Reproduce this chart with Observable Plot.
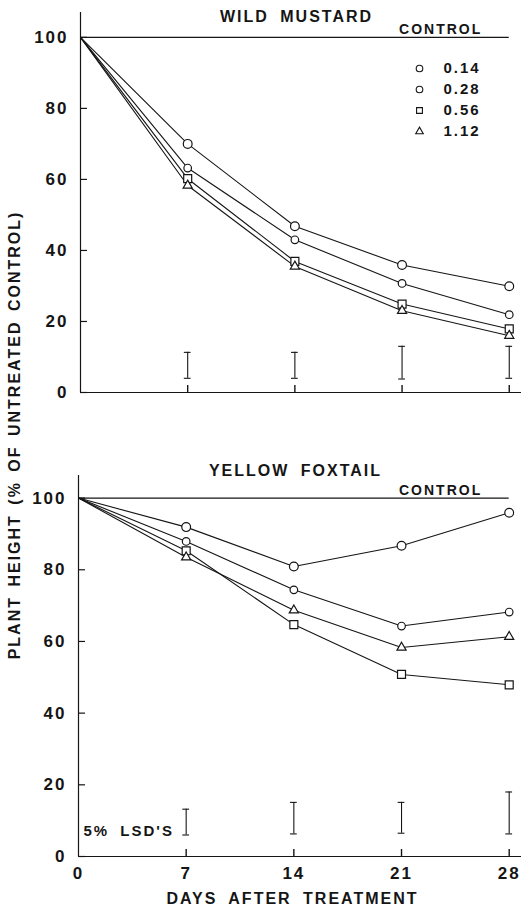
<!DOCTYPE html>
<html>
<head>
<meta charset="utf-8">
<script src="https://cdn.jsdelivr.net/npm/d3@7"></script>
<script src="https://cdn.jsdelivr.net/npm/@observablehq/plot@0.6"></script>
<style>
  html, body { margin: 0; padding: 0; background: #fff; }
  #root { position: relative; width: 527px; height: 908px; overflow: hidden;
          font-family: "Liberation Sans", Arial, sans-serif; font-weight: bold; color: #151515; }
  .panel { position: absolute; left: 0; }
  #ylab { position: absolute; left: 15px; top: 435px; transform: translate(-50%, -50%) rotate(-90deg);
          white-space: nowrap; font-size: 16px; letter-spacing: 2px; word-spacing: 3px; }
</style>
</head>
<body>
<div id="root">
  <div id="top" class="panel" style="top:0px"></div>
  <div id="bottom" class="panel" style="top:440px"></div>
  <div id="ylab">PLANT HEIGHT (% OF UNTREATED CONTROL)</div>
</div>
<script>
// ---- data ----
const days = [0, 7, 14, 21, 28];
const rates = ["0.14", "0.28", "0.56", "1.12"];
const rateSymbols = ["circle", "circle", "square", "triangle"];
const rateRadius = [4.4, 3.8, 4.5, 3.4];

const mustard014 = [100, 70.0, 46.8, 35.9, 29.9];
const mustard028 = [100, 63.2, 43.0, 30.7, 21.9];
const mustard056 = [100, 60.2, 36.9, 24.9, 17.9];
const mustard112 = [100, 58.3, 35.5, 23.0, 16.0];

const foxtail014 = [100, 91.9, 80.9, 86.7, 95.9];
const foxtail028 = [100, 87.9, 74.4, 64.3, 68.2];
const foxtail056 = [100, 85.3, 64.7, 50.8, 47.9];
const foxtail112 = [100, 83.5, 68.7, 58.3, 61.3];

const lsdDays = [7, 14, 21, 28];
const mustardLsdLow = [4.0, 4.0, 3.8, 4.0];
const mustardLsdHigh = [11.3, 11.3, 13.0, 13.0];
const foxtailLsdLow = [6.0, 6.3, 6.5, 6.3];
const foxtailLsdHigh = [13.2, 15.1, 15.1, 18.0];

const yTicks = [0, 20, 40, 60, 80, 100];
const xTickLabels = [0, 7, 14, 21, 28];
const xTickMarks = [7, 14, 21, 28];
const controlValue = 100;
const controlLabel = "CONTROL";
const lsdLabel = "5% LSD'S";
const xLabel = "DAYS AFTER TREATMENT";

const ink = "#151515";
const xMax = 28.8;

function makePanel(cfg) {
  const rows = rates.flatMap((rate, i) => days.map((day, j) => ({rate, day, value: cfg.series[i][j]})));
  const lsd = lsdDays.map((day, i) => ({day, lo: cfg.lsdLow[i], hi: cfg.lsdHigh[i]}));
  const marks = [
    // axes lines
    Plot.ruleX([0], {y1: 0, y2: cfg.yMax, stroke: ink, strokeWidth: 1.2}),
    Plot.ruleY([0], {x1: 0, x2: xMax, stroke: ink, strokeWidth: 1.2}),
    // control line
    Plot.ruleY([controlValue], {x1: 0, x2: days[days.length - 1], stroke: ink, strokeWidth: 1.2}),
    Plot.text([{label: controlLabel, day: days[days.length - 1], value: controlValue}],
      {x: "day", y: "value", text: "label", textAnchor: "end", lineAnchor: "bottom", dx: -27, dy: -3,
       fontSize: 14, fill: ink}),
    // y ticks + labels
    Plot.axisY({ticks: yTicks, tickSize: -7, tickFormat: () => null, label: null, stroke: ink, strokeWidth: 1.2}),
    Plot.axisY({ticks: yTicks, tickSize: 0, tickPadding: 12, label: null, fontSize: 17, fill: ink}),
    // x tick marks
    Plot.axisX({ticks: xTickMarks, tickSize: -7, tickFormat: () => null, label: null, stroke: ink, strokeWidth: 1.4}),
    // LSD bars
    Plot.ruleX(lsd, {x: "day", y1: "lo", y2: "hi", stroke: ink, strokeWidth: 1.1}),
    Plot.ruleY(lsd, {y: "lo", x1: d => d.day - 0.22, x2: d => d.day + 0.22, stroke: ink, strokeWidth: 1.1}),
    Plot.ruleY(lsd, {y: "hi", x1: d => d.day - 0.22, x2: d => d.day + 0.22, stroke: ink, strokeWidth: 1.1}),
    // series
    Plot.line(rows, {x: "day", y: "value", z: "rate", stroke: ink, strokeWidth: 1.1}),
    ...rates.map((rate, i) => Plot.dot(rows.filter(d => d.rate === rate && d.day > 0),
      {x: "day", y: "value", symbol: rateSymbols[i], r: rateRadius[i], fill: "white", stroke: ink, strokeWidth: 1.2})),
    // title
    Plot.text([cfg.title], {frameAnchor: "top", lineAnchor: "bottom", dx: -4.5, dy: cfg.titleDy, fontSize: 16, fill: ink})
  ];
  if (cfg.showXLabels) {
    marks.push(Plot.axisX({ticks: xTickLabels, tickSize: 0, tickPadding: 10, label: null, fontSize: 17, fill: ink}));
    marks.push(Plot.text([xLabel], {frameAnchor: "bottom", lineAnchor: "bottom", dx: -7.5, dy: 47, fontSize: 16, fill: ink}));
  }
  if (cfg.showLsdText) {
    marks.push(Plot.text([lsdLabel], {frameAnchor: "bottom-left", textAnchor: "start", lineAnchor: "bottom", dx: 5, dy: -21,
      fontSize: 15, fill: ink, stroke: "none"}));
  }
  if (cfg.showLegend) {
    rates.forEach((rate, i) => {
      marks.push(Plot.dot([rate], {frameAnchor: "top-right", dx: -102, dy: 56 + i * 21, symbol: rateSymbols[i],
        r: i === 3 ? 2.8 : 3.3, fill: "white", stroke: ink, strokeWidth: 1.1}));
      marks.push(Plot.text([rate], {frameAnchor: "top-right", dx: -78, dy: 56 + i * 21, textAnchor: "start",
        lineAnchor: "middle", fontSize: 15, fill: ink}));
    });
  }
  return Plot.plot({
    width: 527,
    height: cfg.height,
    marginTop: cfg.marginTop,
    marginBottom: cfg.marginBottom,
    marginLeft: cfg.marginLeft,
    marginRight: 6,
    x: {domain: [0, xMax]},
    y: {domain: [0, cfg.yMax]},
    style: {fontFamily: '"Liberation Sans", Arial, sans-serif', fontWeight: "bold", letterSpacing: "2px",
            wordSpacing: "5px", background: "white", overflow: "visible", color: ink},
    marks
  });
}

document.getElementById("top").appendChild(makePanel({
  series: [mustard014, mustard028, mustard056, mustard112],
  lsdLow: mustardLsdLow, lsdHigh: mustardLsdHigh,
  title: "WILD MUSTARD", titleDy: 9,
  height: 440, marginTop: 12, marginBottom: 48, marginLeft: 80, yMax: 107,
  showXLabels: false, showLegend: true, showLsdText: false
}));

document.getElementById("bottom").appendChild(makePanel({
  series: [foxtail014, foxtail028, foxtail056, foxtail112],
  lsdLow: foxtailLsdLow, lsdHigh: foxtailLsdHigh,
  title: "YELLOW FOXTAIL", titleDy: 0,
  height: 468, marginTop: 35, marginBottom: 52, marginLeft: 78, yMax: 106.3,
  showXLabels: true, showLegend: false, showLsdText: true
}));
</script>
</body>
</html>
